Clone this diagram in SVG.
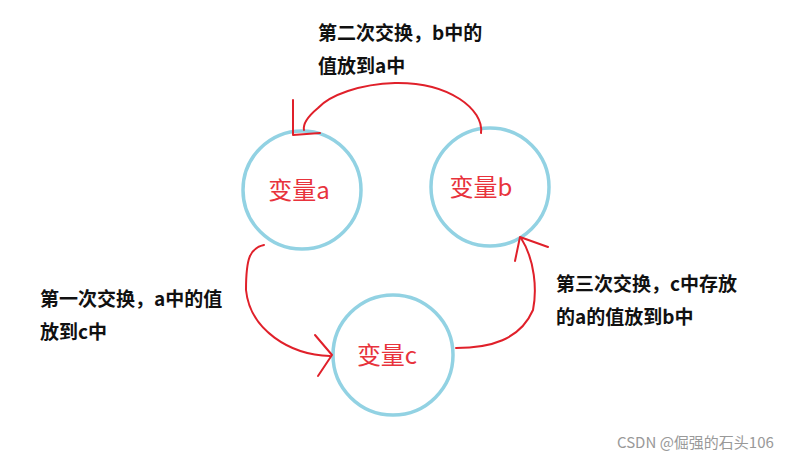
<svg xmlns="http://www.w3.org/2000/svg" width="800" height="457" viewBox="0 0 800 457">
<style>
.n{fill:none;stroke:#92d2e3;stroke-width:3.5}
.nl{font-family:"Noto Sans CJK SC","Noto Sans",sans-serif;font-size:24px;fill:#e8333c;text-anchor:middle}
.t{font-family:"Noto Sans CJK SC","Noto Sans",sans-serif;font-size:19px;font-weight:bold;fill:#111}
.c{fill:none;stroke:#e0202a;stroke-width:2;stroke-linecap:round;stroke-linejoin:round}
</style>
<rect width="800" height="457" fill="#fff"/>
<g id="a"><circle class="n" cx="302" cy="190" r="59"/><text class="nl" x="299" y="199">变量a</text></g>
<g id="b"><circle class="n" cx="490" cy="187" r="59"/><text class="nl" x="481" y="196">变量b</text></g>
<g id="c"><circle class="n" cx="393" cy="355" r="60"/><text class="nl" x="387" y="364">变量c</text></g>
<g id="connectors">
<path class="c" d="M481,133 C484,110 450,82 395,83 C360,84 330,95 318,108 C306,118 303,125 304,130"/>
<path class="c" d="M293,100 L293,135 L320,133"/>
<path class="c" d="M264,245 C250,248 246,258 246,290 C250,330 290,355 330,356"/>
<path class="c" d="M315,335 L332,355 L318,376"/>
<path class="c" d="M456,348 C490,348 520,340 533,310 C537,290 535,260 521,238"/>
<path class="c" d="M515,261 L520,237 L548,247"/>
</g>
<g id="labels">
<text class="t" x="318" y="40">第二次交换，b中的</text>
<text class="t" x="318" y="73">值放到a中</text>
<text class="t" x="40" y="306">第一次交换，a中的值</text>
<text class="t" x="40" y="339">放到c中</text>
<text class="t" x="556" y="291">第三次交换，c中存放</text>
<text class="t" x="556" y="324">的a的值放到b中</text>
<text x="617" y="448" font-family="'Noto Sans CJK SC',sans-serif" font-size="15" fill="#999">CSDN @倔强的石头106</text>
</g>
</svg>
